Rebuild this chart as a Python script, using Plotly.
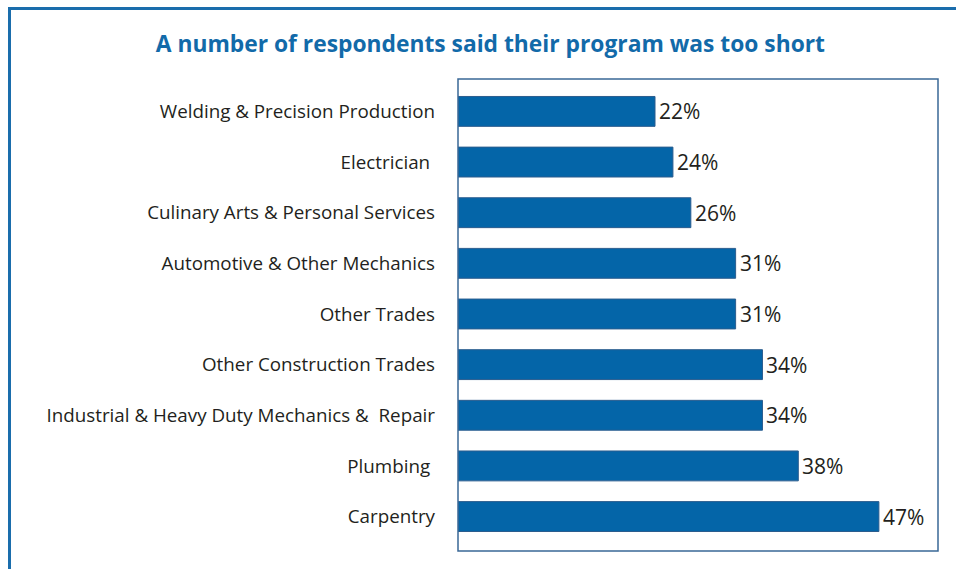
import plotly.graph_objects as go

# Survey results: share of respondents saying their program was too short
categories = [
    "Welding & Precision Production",
    "Electrician ",
    "Culinary Arts & Personal Services",
    "Automotive & Other Mechanics",
    "Other Trades",
    "Other Construction Trades",
    "Industrial & Heavy Duty Mechanics &  Repair",
    "Plumbing ",
    "Carpentry",
]
values = [22, 24, 26, 31, 31, 34, 34, 38, 47]
value_labels = [f"{v}%" for v in values]

BAR_COLOR = "#0465a8"
TITLE_COLOR = "#126aa9"
FRAME_COLOR = "#1a6dac"
TEXT_COLOR = "#231f20"

fig = go.Figure(
    go.Bar(
        x=values,
        y=categories,
        orientation="h",
        width=0.59,
        marker=dict(color=BAR_COLOR, line=dict(color="#2b5d8e", width=1)),
        hoverinfo="skip",
    )
)

# value labels just past the end of each bar
for cat, v, lab in zip(categories, values, value_labels):
    fig.add_annotation(
        x=v, y=cat, text=lab, showarrow=False,
        xanchor="left", yanchor="middle", xshift=2, yshift=0,
        font=dict(family="Open Sans", size=21, color=TEXT_COLOR),
    )

fig.update_layout(
    width=956,
    height=569,
    margin=dict(l=458, r=18, t=79, b=18),
    paper_bgcolor="white",
    plot_bgcolor="white",
    showlegend=False,
    title=dict(
        text="<b>A number of respondents said their program was too short</b>",
        font=dict(family="Open Sans", size=22.8, color=TITLE_COLOR),
        x=0.513,
        xanchor="center",
        y=0.923,
        yanchor="middle",
    ),
    xaxis=dict(
        range=[0, 53.6],
        visible=False,
        showgrid=False,
        zeroline=False,
    ),
    yaxis=dict(
        type="category",
        categoryorder="array",
        categoryarray=categories,
        range=[8.68, -0.64],
        showgrid=False,
        zeroline=False,
        ticks="",
        ticklabelstandoff=22,
        tickfont=dict(family="Open Sans", size=18.8, color=TEXT_COLOR),
    ),
    shapes=[
        # plot frame
        dict(type="rect", xref="paper", yref="paper", x0=0, x1=1, y0=0, y1=1,
             line=dict(color="#3a6897", width=1.5)),
        # outer page frame (top and left edges)
        dict(type="line", xref="paper", yref="paper", x0=-458/480 + 9.5/480, x1=2, y0=1 + 70.5/472, y1=1 + 70.5/472,
             line=dict(color=FRAME_COLOR, width=3)),
        dict(type="line", xref="paper", yref="paper", x0=-448.5/480, x1=-448.5/480, y0=1 + 72/472, y1=-1,
             line=dict(color=FRAME_COLOR, width=3)),
    ],
)

fig.write_html("out.html")
